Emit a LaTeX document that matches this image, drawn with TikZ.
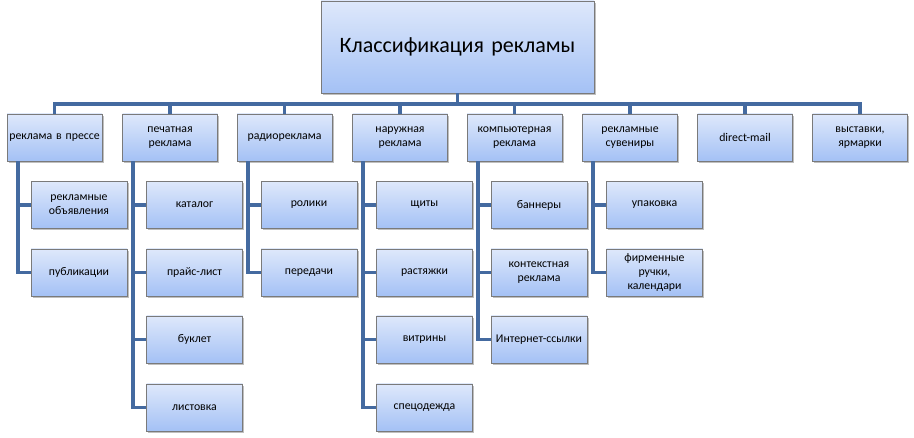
\documentclass[tikz,border=0pt]{standalone}
\usepackage{fontspec}
\setmainfont{Carlito}
\usetikzlibrary{calc,shadows}

\definecolor{linienblau}{RGB}{68,106,160}
\definecolor{kastenoben}{RGB}{222,232,251}
\definecolor{kastenunten}{RGB}{164,193,245}
\definecolor{kastenrand}{RGB}{122,122,122}

\tikzset{
  kasten/.style={draw=kastenrand, line width=0.8pt, top color=kastenoben, bottom color=kastenunten,
    minimum width=95pt, minimum height=47pt, inner sep=1pt, text width=93pt, align=center,
    font=\fontsize{11.8}{14}\selectfont,
    drop shadow={shadow xshift=1.5pt, shadow yshift=-2pt, opacity=0.25, fill=black}},
  linie/.style={draw=linienblau, line width=3.8pt}
}

\begin{document}
\begin{tikzpicture}[x=1pt, y=-1pt]
\useasboundingbox (0,0) rectangle (914,438);

%KOPF
\node [kasten, minimum width=273pt, minimum height=92pt, text width=260pt,
  font=\fontsize{22}{26}\selectfont] (titel) at (457.5,47) {Классификация рекламы};

%ZWEITE EBENE (von links)
\node [kasten] (k1) at (54.5,137.5) {реклама в прессе};
\node [kasten] (k2) at (170,137.5) {печатная\\реклама};
\node [kasten] (k3) at (284.5,137.5) {радиореклама};
\node [kasten] (k4) at (400,137.5) {наружная\\реклама};
\node [kasten] (k5) at (514.5,137.5) {компьютерная\\реклама};
\node [kasten] (k6) at (630,137.5) {рекламные\\сувениры};
\node [kasten] (k7) at (745,137.5) {direct-mail};
\node [kasten] (k8) at (860,137.5) {выставки,\\ярмарки};

%SPALTE NR. 1 (von links)
\node [kasten, minimum width=96pt] (k1a) at (79,205) {рекламные\\объявления};
\node [kasten, minimum width=96pt] (k1b) at (79,272.5) {публикации};

%SPALTE NR. 2 (von links)
\node [kasten, minimum width=96pt] (k2a) at (194.5,205) {каталог};
\node [kasten, minimum width=96pt] (k2b) at (194.5,272.5) {прайс-лист};
\node [kasten, minimum width=96pt] (k2c) at (194.5,339.5) {буклет};
\node [kasten, minimum width=96pt] (k2d) at (194.5,407.5) {листовка};

%SPALTE NR. 3 (von links)
\node [kasten, minimum width=96pt] (k3a) at (309,205) {ролики};
\node [kasten, minimum width=96pt] (k3b) at (309,272.5) {передачи};

%SPALTE NR. 4 (von links)
\node [kasten, minimum width=96pt] (k4a) at (424.5,205) {щиты};
\node [kasten, minimum width=96pt] (k4b) at (424.5,272.5) {растяжки};
\node [kasten, minimum width=96pt] (k4c) at (424.5,339.5) {витрины};
\node [kasten, minimum width=96pt] (k4d) at (424.5,407.5) {спецодежда};

%SPALTE NR. 5 (von links)
\node [kasten, minimum width=96pt] (k5a) at (539,205) {баннеры};
\node [kasten, minimum width=96pt] (k5b) at (539,272.5) {контекстная\\реклама};
\node [kasten, minimum width=96pt] (k5c) at (539,339.5) {Интернет-ссылки};

%SPALTE NR. 6 (von links)
\node [kasten, minimum width=96pt] (k6a) at (654.5,205) {упаковка};
\node [kasten, minimum width=96pt] (k6b) at (654.5,272.5) {фирменные\\ручки,\\календари};

%VERBINDUNGEN KOPF
\coordinate (schiene) at ($(titel.south)+(0,11)$);
\draw [linie] (titel.south) -- (schiene) -| (k1.north);
\draw [linie] (schiene) -| (k2.north);
\draw [linie] (schiene) -| (k3.north);
\draw [linie] (schiene) -| (k4.north);
\draw [linie] (schiene) -| (k5.north);
\draw [linie] (schiene) -| (k6.north);
\draw [linie] (schiene) -| (k7.north);
\draw [linie] (schiene) -| (k8.north);

%VERBINDUNGEN UNTERELEMENTE
\draw [linie] ($(k1.south west)+(11,0)$) |- (k1a.west);
\draw [linie] ($(k1.south west)+(11,0)$) |- (k1b.west);

\draw [linie] ($(k2.south west)+(11,0)$) |- (k2a.west);
\draw [linie] ($(k2.south west)+(11,0)$) |- (k2b.west);
\draw [linie] ($(k2.south west)+(11,0)$) |- (k2c.west);
\draw [linie] ($(k2.south west)+(11,0)$) |- (k2d.west);

\draw [linie] ($(k3.south west)+(11,0)$) |- (k3a.west);
\draw [linie] ($(k3.south west)+(11,0)$) |- (k3b.west);

\draw [linie] ($(k4.south west)+(11,0)$) |- (k4a.west);
\draw [linie] ($(k4.south west)+(11,0)$) |- (k4b.west);
\draw [linie] ($(k4.south west)+(11,0)$) |- (k4c.west);
\draw [linie] ($(k4.south west)+(11,0)$) |- (k4d.west);

\draw [linie] ($(k5.south west)+(11,0)$) |- (k5a.west);
\draw [linie] ($(k5.south west)+(11,0)$) |- (k5b.west);
\draw [linie] ($(k5.south west)+(11,0)$) |- (k5c.west);

\draw [linie] ($(k6.south west)+(11,0)$) |- (k6a.west);
\draw [linie] ($(k6.south west)+(11,0)$) |- (k6b.west);

\end{tikzpicture}
\end{document}
